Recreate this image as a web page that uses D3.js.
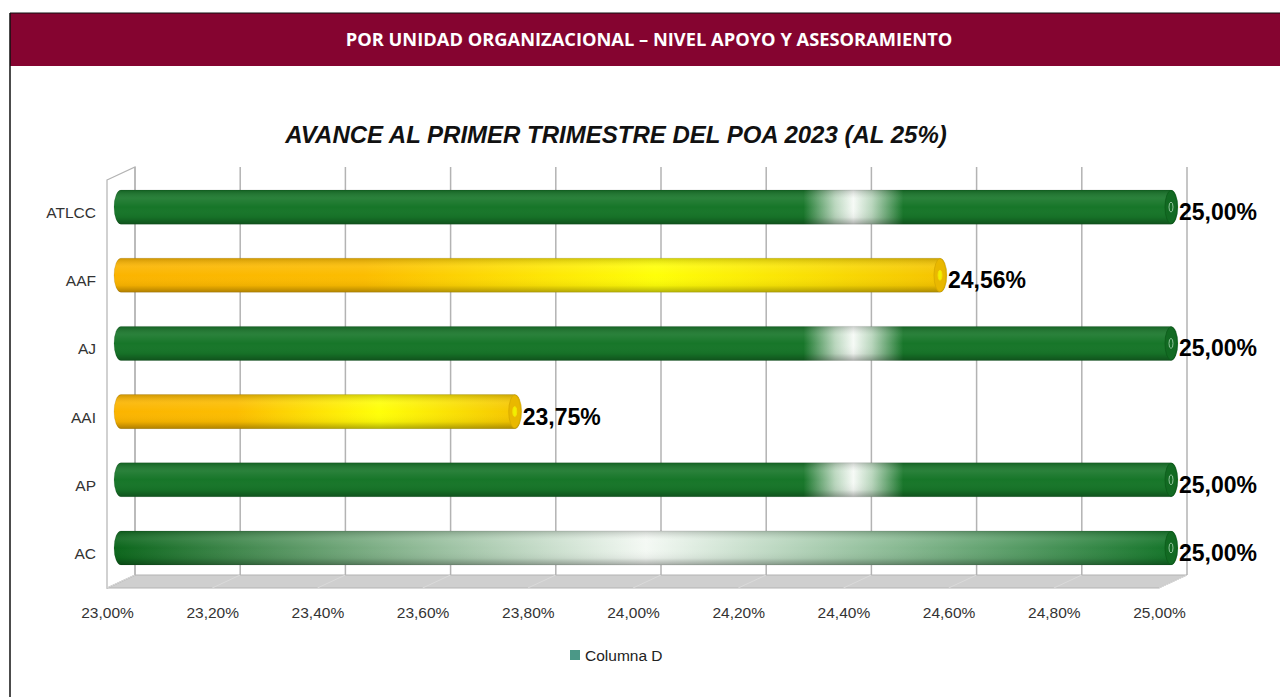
<!DOCTYPE html>
<html>
<head>
<meta charset="utf-8">
<script src="https://cdn.jsdelivr.net/npm/d3@7"></script>
<style>
  body { margin: 0; background: #fff; }
  svg { display: block; }
</style>
</head>
<body>
<svg id="chart" width="1280" height="697"></svg>
<script>
// datos del grafico
var categorias = ["ATLCC", "AAF", "AJ", "AAI", "AP", "AC"];
var valores = [25.00, 24.56, 25.00, 23.75, 25.00, 25.00];
var ticks = [23.0, 23.2, 23.4, 23.6, 23.8, 24.0, 24.2, 24.4, 24.6, 24.8, 25.0];
var encabezado = "POR UNIDAD ORGANIZACIONAL \u2013 NIVEL APOYO Y ASESORAMIENTO";
var titulo = "AVANCE AL PRIMER TRIMESTRE DEL POA 2023 (AL 25%)";
var leyenda = "Columna D";

var svg = d3.select("#chart");
var fmt = function(v) { return d3.format(".2f")(v).replace(".", ",") + "%"; };
var fuente = "'Liberation Sans', Arial, sans-serif";

// marco y encabezado
svg.append("rect").attr("x", 10).attr("y", 13).attr("width", 1275).attr("height", 53)
   .attr("fill", "#850430");
svg.append("line").attr("x1", 10).attr("x2", 10).attr("y1", 13).attr("y2", 697)
   .attr("stroke", "#111").attr("stroke-width", 1.5);
svg.append("line").attr("x1", 10).attr("x2", 1280).attr("y1", 13).attr("y2", 13)
   .attr("stroke", "#111").attr("stroke-width", 1);
svg.append("text").attr("x", 649).attr("y", 46).attr("text-anchor", "middle")
   .style("font-family", "'Open Sans', sans-serif").style("font-weight", "bold")
   .style("font-size", "18.3px").attr("fill", "#fff").text(encabezado);

svg.append("text").attr("x", 616).attr("y", 143).attr("text-anchor", "middle")
   .style("font-family", fuente).style("font-weight", "bold")
   .style("font-style", "italic").style("font-size", "24px").attr("fill", "#111").text(titulo);

// escalas (plano trasero, medio y frontal del 3D)
var top0 = 167, floorBack = 575, floorFront = 588;
var xBack = d3.scaleLinear().domain([23, 25]).range([135, 1187]);
var xMid = d3.scaleLinear().domain([23, 25]).range([121, 1171]);
var xFront = d3.scaleLinear().domain([23, 25]).range([107, 1159]);
var y = d3.scaleBand().domain(categorias).range([173, 582]).paddingInner(0.5).paddingOuter(0.25);

var defs = svg.append("defs");

function grad(id, stops, opts) {
  var g = defs.append("linearGradient").attr("id", id);
  if (opts) Object.keys(opts).forEach(function(k) { g.attr(k, opts[k]); });
  stops.forEach(function(s) {
    g.append("stop").attr("offset", s[0]).attr("stop-color", s[1]).attr("stop-opacity", s[2] == null ? 1 : s[2]);
  });
}
var span = xMid(25) + 7 - (xMid(23) - 7);
var hl = function(v) { return (xMid(v) - (xMid(23) - 7)) / span; };
grad("gVerde", [[0, "#177629"], [hl(24.30), "#177629"], [hl(24.36), "#b9d6bd"], [hl(24.395), "#f6faf6"],
                [hl(24.43), "#b9d6bd"], [hl(24.49), "#177629"], [1, "#177629"]],
     {gradientUnits: "userSpaceOnUse", x1: xMid(23) - 7, x2: xMid(25) + 7, y1: 0, y2: 0});
grad("gAmarillo", [[0, "#fbb400"], [0.3, "#fcbd00"], [0.65, "#ffff08"], [1, "#f5c300"]]);
grad("gAC", [[0, "#0b661b"], [0.5, "#f4f9f4"], [1, "#127327"]]);
grad("gSombra", [[0, "#000", 0.18], [0.25, "#fff", 0.08], [0.5, "#fff", 0], [0.8, "#000", 0.05], [1, "#000", 0.3]],
     {x1: 0, x2: 0, y1: 0, y2: 1});

// piso y paredes
var gridColor = "#b3b3b3";
svg.append("polygon")
   .attr("points", [[xFront(23), floorFront], [xFront(25), floorFront], [xBack(25), floorBack], [xBack(23), floorBack]].join(" "))
   .attr("fill", "#cfcfcf").attr("stroke", gridColor);
svg.append("polygon")
   .attr("points", [[xFront(23), 180], [xBack(23), top0], [xBack(23), floorBack], [xFront(23), floorFront]].join(" "))
   .attr("fill", "#fff").attr("stroke", gridColor).attr("stroke-width", 1.2);
svg.selectAll(".floorline").data(ticks).enter().append("line")
   .attr("x1", function(d) { return xFront(d); }).attr("x2", function(d) { return xBack(d); })
   .attr("y1", floorFront).attr("y2", floorBack).attr("stroke", "#dadada");
svg.selectAll(".grid").data(ticks).enter().append("line")
   .attr("x1", function(d) { return xBack(d); }).attr("x2", function(d) { return xBack(d); })
   .attr("y1", top0).attr("y2", floorBack).attr("stroke", gridColor).attr("stroke-width", 1.5);

// eje x
var ax = svg.append("g").attr("transform", "translate(0," + 604 + ")")
   .call(d3.axisBottom(xFront).tickValues(ticks).tickSize(0).tickFormat(fmt));
ax.select(".domain").remove();
ax.selectAll("text").style("font-family", fuente)
   .style("font-size", "15.5px").attr("fill", "#333");

// eje y (categorias)
var ay = svg.append("g").attr("transform", "translate(96,6)")
   .call(d3.axisLeft(y).tickSize(0).tickPadding(0));
ay.select(".domain").remove();
ay.selectAll("text").style("font-family", fuente)
   .style("font-size", "15.5px").attr("fill", "#333");

// barras cilindricas
var datos = categorias.map(function(c, i) { return {cat: c, v: valores[i], i: i}; });
function relleno(d) {
  if (d.v < 25) return "url(#gAmarillo)";
  if (d.i === datos.length - 1) return "url(#gAC)";
  return "url(#gVerde)";
}
function tapa(d) { return d.v < 25 ? "#e9b800" : "#126a22"; }
var rx = 7, h = y.bandwidth(), ry = h / 2;

function cilindro(d) {
  var x0 = xMid(23), x1 = xMid(d.v), t = y(d.cat), b = t + h;
  return "M" + x0 + "," + t + " L" + x1 + "," + t +
         " A" + rx + "," + ry + " 0 0 1 " + x1 + "," + b +
         " L" + x0 + "," + b +
         " A" + rx + "," + ry + " 0 0 1 " + x0 + "," + t + "Z";
}

var bar = svg.selectAll(".bar").data(datos).enter().append("g").attr("class", "bar");
bar.append("path").attr("d", cilindro).attr("fill", relleno);
bar.append("path").attr("d", cilindro)
   .attr("fill", "url(#gSombra)").attr("stroke", "rgba(0,0,0,0.12)").attr("stroke-width", 0.8);
bar.append("ellipse")
   .attr("cx", function(d) { return xMid(d.v); }).attr("cy", function(d) { return y(d.cat) + ry; })
   .attr("rx", rx - 1).attr("ry", ry - 0.5)
   .attr("fill", tapa).attr("stroke", function(d) { return d.v < 25 ? "#d6a800" : "#0d5a1b"; }).attr("stroke-width", 0.8);
bar.append("ellipse")
   .attr("cx", function(d) { return xMid(d.v); }).attr("cy", function(d) { return y(d.cat) + ry; })
   .attr("rx", 2).attr("ry", 5)
   .attr("fill", function(d) { return d.v < 25 ? "#f0f000" : "none"; })
   .attr("stroke", function(d) { return d.v < 25 ? "#f6e000" : "#8fc39a"; }).attr("stroke-width", 1);

// etiquetas de valor
bar.append("text")
   .attr("x", function(d) { return xMid(d.v) + rx + 1; })
   .attr("y", function(d) { return y(d.cat) + ry + 13; })
   .style("font-family", fuente).style("font-weight", "bold")
   .style("font-size", "23px").attr("fill", "#000")
   .text(function(d) { return fmt(d.v); });

// leyenda
svg.append("rect").attr("x", 570).attr("y", 650).attr("width", 10).attr("height", 10).attr("fill", "#4b9887");
svg.append("text").attr("x", 585).attr("y", 661)
   .style("font-family", fuente).style("font-size", "15.5px")
   .attr("fill", "#222").text(leyenda);
</script>
</body>
</html>
